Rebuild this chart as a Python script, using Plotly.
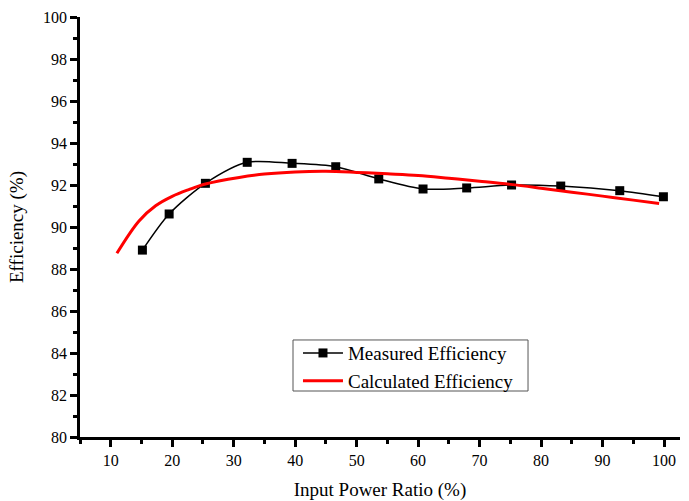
import plotly.graph_objects as go

meas_x = [15.15, 19.5, 25.4, 32.2, 39.5, 46.6, 53.6, 60.8, 67.9, 75.2, 83.2, 92.8, 99.9]
meas_y = [88.90, 90.62, 92.08, 93.08, 93.03, 92.87, 92.29, 91.81, 91.86, 92.00, 91.95, 91.73, 91.44]

calc_x = [11.0, 14.6, 17.3, 20.0, 22.7, 25.4, 30.9, 35.0, 40.0, 45.0, 50.0, 55.0, 60.0, 65.0, 70.0, 75.0, 80.0, 85.0, 90.0, 95.0, 99.2]
calc_y = [88.75, 90.29, 91.01, 91.46, 91.78, 92.05, 92.36, 92.52, 92.62, 92.65, 92.60, 92.53, 92.45, 92.32, 92.18, 92.03, 91.85, 91.66, 91.47, 91.28, 91.12]

x_ticks = [10, 20, 30, 40, 50, 60, 70, 80, 90, 100]
y_ticks = [80, 82, 84, 86, 88, 90, 92, 94, 96, 98, 100]

FONT = "Liberation Serif, Times New Roman, serif"

fig = go.Figure()
fig.add_trace(go.Scatter(
    x=meas_x, y=meas_y, mode="lines+markers", name="Measured Efficiency",
    line=dict(color="black", width=1.5, shape="spline", smoothing=0.8),
    marker=dict(symbol="square", size=9, color="black"),
))
fig.add_trace(go.Scatter(
    x=calc_x, y=calc_y, mode="lines", name="Calculated Efficiency",
    line=dict(color="#ff0000", width=3, shape="spline", smoothing=1.0),
))

# legend frame
fig.add_shape(type="rect", xref="paper", yref="paper",
              x0=0.355, x1=0.7467, y0=0.1095, y1=0.231,
              line=dict(color="#555555", width=1), fillcolor="white", layer="below")

fig.update_layout(
    width=689, height=501,
    margin=dict(l=80, r=9, t=17, b=64, autoexpand=False),
    plot_bgcolor="white", paper_bgcolor="white",
    font=dict(family=FONT, color="black", size=16),
    showlegend=True,
    legend=dict(
        x=0.3633, y=0.245, xanchor="left", yanchor="top",
        borderwidth=0, bgcolor="rgba(0,0,0,0)",
        font=dict(family=FONT, size=19, color="black"),
        tracegroupgap=0, itemwidth=40,
    ),
    xaxis=dict(
        range=[5, 102.6], tickvals=x_ticks, showgrid=False, zeroline=False,
        showline=True, linecolor="black", linewidth=2.5, automargin=False,
        ticks="outside", ticklen=7, tickwidth=2.5, tickcolor="black",
        tickfont=dict(family=FONT, size=16),
        minor=dict(ticks="outside", dtick=5, tick0=0, ticklen=4, tickwidth=2.5, tickcolor="black", showgrid=False),
        title=dict(text="Input Power Ratio (%)", font=dict(family=FONT, size=19)),
    ),
    yaxis=dict(
        range=[80, 100], tickvals=y_ticks, showgrid=False, zeroline=False,
        showline=True, linecolor="black", linewidth=2.5, automargin=False,
        ticks="outside", ticklen=7, tickwidth=2.5, tickcolor="black",
        tickfont=dict(family=FONT, size=16),
        minor=dict(ticks="outside", dtick=1, tick0=0, ticklen=4, tickwidth=2.5, tickcolor="black", showgrid=False),
        title=dict(text="Efficiency (%)", font=dict(family=FONT, size=19)),
    ),
)

fig.write_html("out.html")
